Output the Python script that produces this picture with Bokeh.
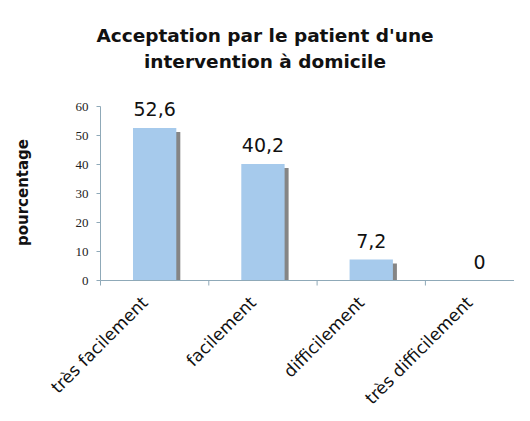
import numpy as np
from bokeh.plotting import figure
from bokeh.models import ColumnDataSource, FixedTicker, Range1d, Label
from bokeh.core.properties import value
from bokeh.transform import dodge
from bokeh.embed import file_html
from bokeh.resources import INLINE

categories = ["très facilement", "facilement", "difficilement", "très difficilement"]
values = [52.6, 40.2, 7.2, 0.0]
value_labels = ["52,6", "40,2", "7,2", "0"]
y_ticks = [0, 10, 20, 30, 40, 50, 60]
title_lines = ["Acceptation par le patient d'une", "intervention à domicile"]
y_title = "pourcentage"

W, H = 514, 405
ORIGIN_X, ORIGIN_Y = 100, 280   # pixel position of the data origin
PX_PER_UNIT = 2.9               # y scale
CAT_PX = 108.3                  # width of one category

xs = np.arange(len(categories)) + 0.5
shadow_top = [max(v - 4 / PX_PER_UNIT, 0.0) for v in values]
src = ColumnDataSource(dict(x=xs, top=values, stop=shadow_top,
                            lab=value_labels, cat=categories, zero=[0] * len(categories)))
bounds = np.arange(len(categories) + 1)
tick_src = ColumnDataSource(dict(x=bounds, y0=[0] * len(bounds),
                                 y1=[-5 / PX_PER_UNIT] * len(bounds)))

p = figure(width=W, height=H, output_backend="svg", toolbar_location=None,
           x_range=Range1d(-ORIGIN_X / CAT_PX, (W - ORIGIN_X) / CAT_PX),
           y_range=Range1d(-(H - ORIGIN_Y) / PX_PER_UNIT, ORIGIN_Y / PX_PER_UNIT),
           x_axis_location=None,
           min_border_left=0, min_border_right=0, min_border_top=0, min_border_bottom=0)
p.outline_line_color = None
p.grid.grid_line_color = None
p.background_fill_color = "white"

axis_col = "#8fa9b8"

# shadow then bar
p.vbar(x=dodge("x", 4 / CAT_PX, range=p.x_range), top="stop", width=0.4, source=src,
       fill_color="#858585", line_color=None)
p.vbar(x="x", top="top", width=0.4, source=src, fill_color="#A6CAEC", line_color=None)

# x axis line and boundary ticks
p.segment(x0=[0], y0=[0], x1=[len(categories)], y1=[0], line_color=axis_col, line_width=1)
p.segment(x0="x", y0="y0", x1="x", y1="y1", source=tick_src, line_color=axis_col, line_width=1)

# y axis drawn at x = 0
ya = p.yaxis[0]
ya.fixed_location = 0
ya.ticker = FixedTicker(ticks=y_ticks)
ya.bounds = (0, 60)
ya.axis_line_color = axis_col
ya.major_tick_line_color = axis_col
ya.major_tick_out = 4
ya.major_tick_in = 0
ya.minor_tick_line_color = None
ya.major_label_text_font = "Liberation Serif"
ya.major_label_text_font_size = "13px"
ya.major_label_text_color = "#222222"
ya.major_label_standoff = 8

# value labels
p.text(x="x", y="top", text="lab", source=src, text_align="center",
       text_baseline="bottom", y_offset=-12, text_font=value("DejaVu Sans"),
       text_font_size="19px", text_color="#111111")
# category labels
p.text(x="x", y="zero", text="cat", source=src, text_align="right",
       text_baseline="middle", angle=np.pi / 4, x_offset=-10, y_offset=19,
       text_font=value("DejaVu Sans"), text_font_size="17px", text_color="#111111")

# title (two lines)
for i, t in enumerate(title_lines):
    p.add_layout(Label(x=264.5, y=H - 35 - 26 * i, x_units="screen", y_units="screen",
                       text=t, text_align="center", text_baseline="alphabetic",
                       text_font="DejaVu Sans", text_font_style="bold",
                       text_font_size="18.5px", text_color="#111111"))
# y title
p.add_layout(Label(x=22, y=H - 192, x_units="screen", y_units="screen", angle=np.pi / 2,
                   text=y_title, text_align="center", text_baseline="middle",
                   text_font="DejaVu Sans", text_font_style="bold",
                   text_font_size="15px", text_color="#111111"))

open("out.html", "w").write(file_html(p, INLINE))
